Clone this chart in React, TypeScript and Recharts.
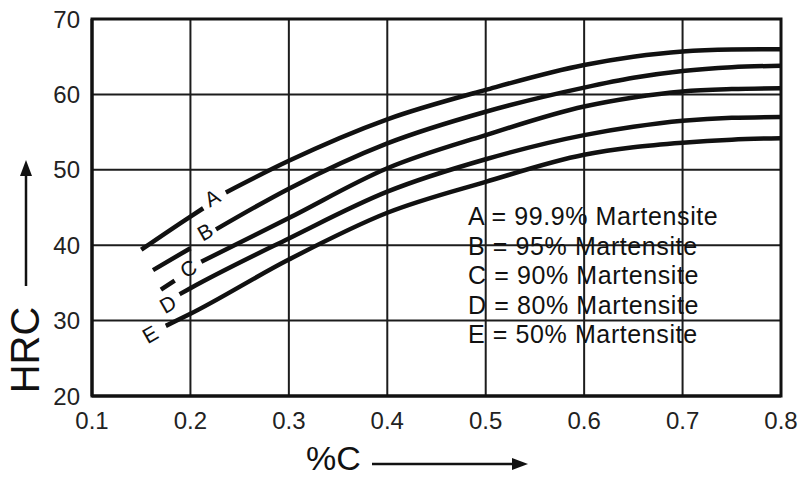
import React from 'react';
import { LineChart, Line, XAxis, YAxis, CartesianGrid, ReferenceDot, ReferenceArea, Legend } from 'recharts';

const X_TICKS = [0.1, 0.2, 0.3, 0.4, 0.5, 0.6, 0.7, 0.8];
const Y_TICKS = [20, 30, 40, 50, 60, 70];

const LETTERS = ['A', 'B', 'C', 'D', 'E'];
const MARTENSITE = ['99.9%', '95%', '90%', '80%', '50%'];

// %C / HRC readings per curve; null leaves the gap where the letter sits
const A_C = [0.15, 0.2, 0.213, 0.225, 0.236, 0.3, 0.4, 0.5, 0.6, 0.65, 0.7, 0.75, 0.8];
const A_HRC = [39.4, 43.8, 44.9, null, 47.0, 51.2, 56.7, 60.6, 63.9, 65.0, 65.7, 65.95, 66.0];
const B_C = [0.162, 0.2, 0.213, 0.226, 0.3, 0.4, 0.5, 0.6, 0.65, 0.7, 0.75, 0.8];
const B_HRC = [36.7, 39.6, null, 42.1, 47.5, 53.5, 57.7, 60.9, 62.2, 63.1, 63.6, 63.8];
const C_C = [0.17, 0.184, 0.197, 0.211, 0.3, 0.4, 0.5, 0.6, 0.65, 0.7, 0.75, 0.8];
const C_HRC = [34.1, 35.3, null, 37.8, 43.6, 50.2, 54.6, 58.4, 59.6, 60.4, 60.7, 60.8];
const D_C = [0.189, 0.2, 0.3, 0.4, 0.5, 0.6, 0.65, 0.7, 0.75, 0.8];
const D_HRC = [33.5, 34.3, 40.9, 47.1, 51.4, 54.6, 55.7, 56.5, 56.9, 57.0];
const E_C = [0.175, 0.2, 0.3, 0.4, 0.5, 0.6, 0.65, 0.7, 0.75, 0.8];
const E_HRC = [29.3, 30.9, 38.1, 44.3, 48.4, 52.0, 53.0, 53.6, 54.0, 54.2];

// where the curve letters are written
const LABEL_C = [0.222, 0.215, 0.198, 0.177, 0.159];
const LABEL_HRC = [46.3, 41.8, 36.9, 32.2, 28.2];

const FONT = '"Liberation Sans", Arial, sans-serif';
const INK = '#111';

const zip = (xs: number[], ys: (number | null)[]) => xs.map((x, i) => ({ x, y: ys[i] }));
const series = [
  zip(A_C, A_HRC),
  zip(B_C, B_HRC),
  zip(C_C, C_HRC),
  zip(D_C, D_HRC),
  zip(E_C, E_HRC),
];

const YTitle = (props: any) => {
  const { viewBox } = props;
  const cx = viewBox.x + 26;
  return (
    <g>
      <text x={cx - 1} y={350} transform={`rotate(-90, ${cx - 1}, 350)`} textAnchor="middle"
        dominantBaseline="central" fontSize={40} fontFamily={FONT} fill={INK}>HRC</text>
      <line x1={cx} y1={286} x2={cx} y2={172} stroke={INK} strokeWidth={2.5} />
      <polygon points={`${cx},160 ${cx - 6},176 ${cx + 6},176`} fill={INK} />
    </g>
  );
};

const XTitle = (props: any) => {
  const { viewBox } = props;
  const y = viewBox.y + 68;
  return (
    <g>
      <text x={306} y={y + 6} fontSize={34} fontFamily={FONT} fill={INK}>%C</text>
      <line x1={372} y1={y} x2={514} y2={y} stroke={INK} strokeWidth={2.5} />
      <polygon points={`528,${y} 512,${y - 6} 512,${y + 6}`} fill={INK} />
    </g>
  );
};

const KeyBox = (props: any) => {
  const items = (props.payload || []).map((p: any) => p.value);
  return (
    <div style={{ fontFamily: FONT, fontSize: 25, lineHeight: '29.5px', color: INK, letterSpacing: 0.6 }}>
      {items.map((t: string) => (
        <div key={t}>{t}</div>
      ))}
    </div>
  );
};

export default function App() {
  return (
    <div style={{ position: 'absolute', left: 0, top: 0, background: '#fff' }}>
      <LineChart width={799} height={481} margin={{ top: 19, right: 18, bottom: 0, left: 0 }}>
        <CartesianGrid stroke="#1c1c1c" strokeWidth={2} />
        <ReferenceArea x1={0.1} x2={0.8} y1={20} y2={70} fill="none" stroke={INK} strokeWidth={3} />
        <XAxis type="number" dataKey="x" domain={[0.1, 0.8]} ticks={X_TICKS} allowDataOverflow
          height={85} tickLine={false} axisLine={{ stroke: INK, strokeWidth: 3 }} tickMargin={10}
          tick={{ fill: '#222', fontSize: 24, fontFamily: FONT }} label={<XTitle />} />
        <YAxis type="number" domain={[20, 70]} ticks={Y_TICKS} allowDataOverflow width={92}
          tickLine={false} axisLine={{ stroke: INK, strokeWidth: 3 }} tickMargin={6}
          tick={{ fill: '#222', fontSize: 24, fontFamily: FONT }} label={<YTitle />} />
        {series.map((d, i) => (
          <Line key={LETTERS[i]} data={d} dataKey="y" name={`${LETTERS[i]} = ${MARTENSITE[i]} Martensite`}
            type="monotone" stroke={INK} strokeWidth={4.5} dot={false} activeDot={false}
            connectNulls={false} isAnimationActive={false} />
        ))}
        {LETTERS.map((l, i) => (
          <ReferenceDot key={'lbl' + l} x={LABEL_C[i]} y={LABEL_HRC[i]} r={0}
            shape={(p: any) => (
              <text x={p.cx} y={p.cy} transform={`rotate(-30, ${p.cx}, ${p.cy})`} textAnchor="middle"
                dominantBaseline="central" fontSize={21} fontFamily={FONT} fill={INK}>{l}</text>
            )} />
        ))}
        <Legend layout="vertical" align="center" verticalAlign="middle" content={<KeyBox />}
          wrapperStyle={{ left: 468, top: 202, width: 320 }} />
      </LineChart>
    </div>
  );
}
